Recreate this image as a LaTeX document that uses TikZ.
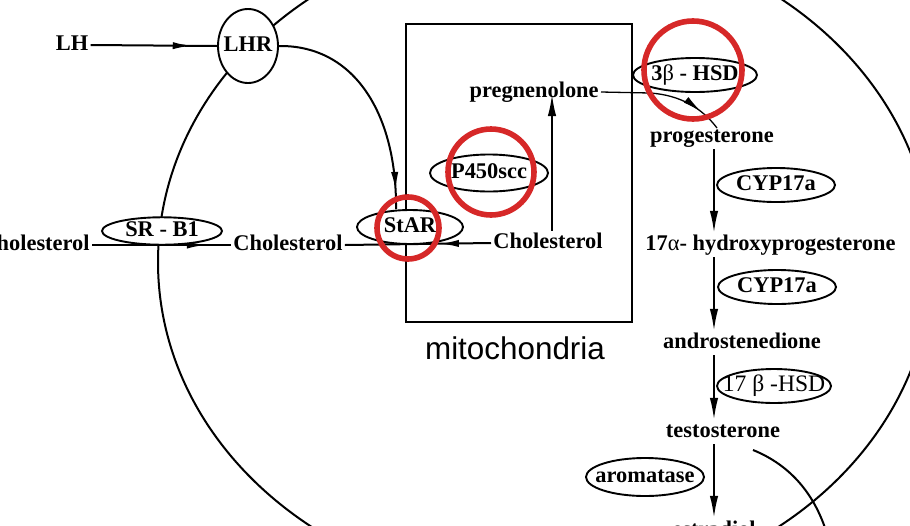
\documentclass[tikz,border=0pt]{standalone}
\usepackage{fontspec}
\setmainfont{Liberation Serif}
\newfontfamily\sansf{Liberation Sans}
\usetikzlibrary{shapes.geometric,arrows.meta,decorations.markings}
\definecolor{hlred}{RGB}{214,40,40}
\pgfdeclarelayer{bg}
\pgfsetlayers{bg,main}
\newcommand\ez[1]{\makebox[0pt]{#1}}
\begin{document}
\begin{tikzpicture}[x=0.5pt,y=-0.5pt,
  lbl/.style={font=\fontsize{11.2}{13}\selectfont\bfseries, inner sep=1pt, text height=7.5pt, text depth=2.2pt},
  enz/.style={ellipse, draw, line width=0.95pt, inner sep=0pt, text height=7.5pt, text depth=2.2pt,
              font=\fontsize{11.2}{13}\selectfont\bfseries},
  ln/.style={line width=1pt},
  tipd/.style={-{Latex[length=11pt,width=4.2pt]}},
  midarrow/.style={decoration={markings, mark=at position #1 with {\arrow{Latex[length=9.5pt,width=3.6pt]}}}, postaction={decorate}},
  ring/.style={draw=hlred, line width=2.8pt}
]
\useasboundingbox (0,0) rectangle (910,525);
\clip (0,0) rectangle (910,525);

% text labels
\node[lbl] (LH) at (72,45) {LH};
\node[lbl, anchor=east] (cholL) at (92,245) {Cholesterol};
\node[lbl, anchor=west] (cholM) at (231,245) {Cholesterol};
\node[lbl, anchor=west] (cholR) at (491,243) {Cholesterol};
\node[lbl, anchor=east] (preg) at (601,92) {pregnenolone};
\node[lbl] (prog) at (712,137) {progesterone};
\node[lbl, anchor=west] (hyd) at (643,245) {17{\mdseries α}- hydroxyprogesterone};
\node[lbl] (andro) at (742,343) {androstenedione};
\node[lbl] (testo) at (723,432) {testosterone};
\node[lbl] (estra) at (714,531) {estradiol};
\node[font=\sansf\fontsize{15.7}{18}\selectfont, inner sep=0pt] (mitolbl) at (515,348) {mitochondria};

% enzymes / receptors
\node[enz, fill=white, minimum width=30pt, minimum height=37pt] (LHR) at (248,46) {\ez{LHR}};
\node[enz, fill=white, minimum width=60pt, minimum height=12pt] (SRB) at (162,231) {\ez{SR - B1}};
\node[enz, fill=white, minimum width=53pt, minimum height=17pt] (StAR) at (410,227) {\ez{StAR}};
\node[enz, minimum width=59pt, minimum height=18.5pt] (P450) at (489,173) {\ez{P450scc}};
\node[enz, minimum width=62pt, minimum height=17pt] (HSD3) at (695,75) {\ez{3{\mdseries β} - HSD}};
\node[enz, minimum width=59pt, minimum height=17pt] (CYPa) at (776,185) {\ez{CYP17a}};
\node[enz, minimum width=59pt, minimum height=17pt] (CYPb) at (777,287) {\ez{CYP17a}};
\node[enz, minimum width=57pt, minimum height=17pt, font=\fontsize{11.8}{14}\selectfont] (HSD17) at (774,386) {\ez{17 β -HSD}};
\node[enz, minimum width=59pt, minimum height=19pt] (arom) at (645,477) {\ez{aromatase}};

\coordinate (sx) at (714,0);
\coordinate (upx) at (552,0);
\coordinate (starin) at (396,0);
\coordinate (tcurve) at (753,450);
\coordinate (tcurveend) at (830,545);

\begin{pgfonlayer}{bg}
  % cell membrane
  \draw[ln] (545,262) ellipse [x radius=193.5pt, y radius=166pt];
  % mitochondrion
  \node[draw, line width=1.2pt, minimum width=113pt, minimum height=149pt, inner sep=0pt] (mito) at (519,173) {};
  % connectors
  \draw[ln, midarrow=0.8] (LH.east) -- (LHR.west);
  \draw[ln, midarrow=0.92] (LHR.east) .. controls (355,45) and (397,115) .. (StAR.north -| starin);
  \draw[ln, midarrow=0.82] (cholL.east) -- (cholM.west);
  \draw[ln, midarrow=0.35] (cholR.west) -- (cholM.east);
  \draw[ln, tipd] (cholR.north -| upx) -- ([yshift=-1pt]preg.east -| upx);
  \draw[line width=0.65pt, midarrow=0.82] (preg.east) -- (650,93) .. controls (680,95) and (702,108) .. (717,128);
  \draw[ln, tipd] (prog.south -| sx) -- (hyd.north -| sx);
  \draw[ln, tipd] (hyd.south -| sx) -- (andro.north -| sx);
  \draw[ln, tipd] (andro.south -| sx) -- (testo.north -| sx);
  \draw[ln, tipd] (testo.south -| sx) -- ([yshift=0.5pt]estra.north -| sx);
  \draw[ln] (tcurve) .. controls (790,465) and (818,495) .. (tcurveend);
\end{pgfonlayer}

% highlight rings
\draw[ring] (693,70) circle [radius=24.5pt];
\draw[ring] (491,172) circle [radius=21.5pt];
\draw[ring] (408,228) circle [radius=15.5pt];
\end{tikzpicture}
\end{document}
